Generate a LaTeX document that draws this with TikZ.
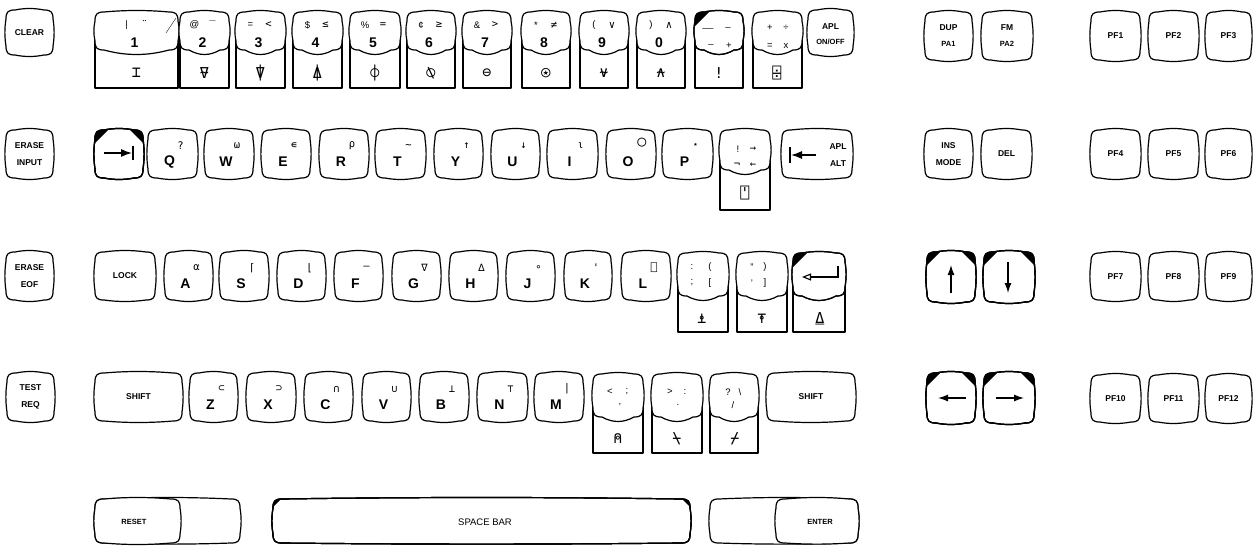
\documentclass[tikz,border=0pt]{standalone}
\usepackage{fontspec}
\setmainfont{Liberation Sans}
\newfontfamily\aplf{DejaVu Sans Mono}
\usetikzlibrary{arrows.meta}
\newcommand\kshape[6]{#1 ({#2+9},{#3}) .. controls ({#2+9+(#4-#2-18)/3},{#3-2}) and ({#4-9-(#4-#2-18)/3},{#3-2}) .. ({#4-9},{#3}) .. controls ({#4-2},{#3}) and ({#4},{#3+2}) .. ({#4},{#3+9}) .. controls ({#4+1.5},{#3+9+(#5-#3-18)/3}) and ({#4+1.5},{#5-9-(#5-#3-18)/3}) .. ({#4},{#5-9}) .. controls ({#4},{#5-2}) and ({#4-2},{#5}) .. ({#4-9},{#5}) .. controls ({#4-9-(#4-#2-18)/3},{#5+#6}) and ({#2+9+(#4-#2-18)/3},{#5+#6}) .. ({#2+9},{#5}) .. controls ({#2+2},{#5}) and ({#2},{#5-2}) .. ({#2},{#5-9}) .. controls ({#2-1.5},{#5-9-(#5-#3-18)/3}) and ({#2-1.5},{#3+9+(#5-#3-18)/3}) .. ({#2},{#3+9}) .. controls ({#2},{#3+2}) and ({#2+2},{#3}) .. cycle;}
\newcommand\kcap[5]{\kshape{\draw[kl,fill=white]}{#1}{#2}{#3}{#4}{#5}}
\newcommand\kbl[6]{\begin{scope}\kshape{\clip}{#1}{#2}{#3}{#4}{#5}\fill ({#1-3},{#2-3}) -- ({#1+#6},{#2-3}) -- ({#1-3},{#2+#6}) -- cycle;\end{scope}\kshape{\draw[kl]}{#1}{#2}{#3}{#4}{#5}}
\newcommand\kbr[6]{\begin{scope}\kshape{\clip}{#1}{#2}{#3}{#4}{#5}\fill ({#3+3},{#2-3}) -- ({#3-#6},{#2-3}) -- ({#3+3},{#2+#6}) -- cycle;\end{scope}\kshape{\draw[kl]}{#1}{#2}{#3}{#4}{#5}}
\newcommand\tkey[5]{\draw[kl] (#1,{#4-10}) -- (#1,#5) -- (#3,#5) -- (#3,{#4-10}); \kcap{#1}{#2}{#3}{#4}{6}}
\newcommand\lkey[6]{\kcap{#2}{#4}{#3}{#4+48}{2}
 \node[big] (#1) at ({(#2+#3)/2-3},{#4+32}) {#5};
 \node[sym] (#1s) at ({(#2+#3)/2+8},{#4+16}) {#6};}
\newcommand\dkey[7]{\tkey{#2}{12}{#3}{50}{88}
 \node[sm] (#1a) at ({(#2+#3)/2-10},25) {#4};
 \node[sym] (#1b) at ({(#2+#3)/2+8},25) {#5};
 \node[big] (#1c) at ({(#2+#3)/2-2},43) {#6};
 \node[low] (#1d) at ({(#2+#3)/2},73) {#7};}
\newcommand\nkey[6]{\kcap{#2}{#3}{#4}{#5}{2}\node[lab] (#1) at ({(#2+#4)/2},{(#3+#5)/2}) {#6};}
\tikzset{
 kl/.style={line width=1.2pt, line join=round},
 big/.style={font=\fontsize{14}{14}\selectfont\bfseries, inner sep=0pt},
 sym/.style={font=\aplf\fontsize{10.5}{10.5}\selectfont, inner sep=0pt},
 low/.style={font=\aplf\fontsize{15}{15}\selectfont, inner sep=0pt},
 sm/.style={font=\fontsize{9.5}{9.5}\selectfont, inner sep=0pt},
 lab/.style={font=\fontsize{8.5}{17}\selectfont\bfseries, align=center, inner sep=0pt},
 slab/.style={font=\fontsize{7.5}{9}\selectfont\bfseries, inner sep=0pt},
 rg/.style={font=\fontsize{9.5}{9.5}\selectfont, inner sep=0pt},
 arr/.style={line width=1.3pt}
}
\begin{document}
\begin{tikzpicture}[x=1pt,y=-1pt]
\useasboundingbox (0,0) rectangle (1254,546);
% left column
\nkey{clear}{6}{10}{53}{55}{CLEAR}
\nkey{erin}{6}{130}{53}{178}{ERASE\\INPUT}
\nkey{ereof}{6}{252}{53}{300}{ERASE\\EOF}
\nkey{testreq}{7}{373}{54}{421}{TEST\\REQ}
% row 1
\dkey{d1}{95}{178}{|}{¨}{1}{⌶}
\draw[line width=0.4pt] (166,33) -- (176,18);
\dkey{d2}{180}{229}{@}{‾}{2}{⍫}
\dkey{d3}{236}{285}{=}{<}{3}{⍒}
\dkey{d4}{293}{342}{\$}{≤}{4}{⍋}
\dkey{d5}{350}{400}{\%}{=}{5}{⌽}
\dkey{d6}{407}{455}{¢}{≥}{6}{⍉}
\dkey{d7}{463}{511}{\&}{>}{7}{⊖}
\dkey{d8}{522}{570}{*}{≠}{8}{⍟}
\dkey{d9}{580}{628}{(}{∨}{9}{⍱}
\dkey{d0}{637}{685}{)}{∧}{0}{⍲}
\tkey{695}{12}{743}{50}{88}
\kbl{695}{12}{743}{50}{6}{17}
\node[rg] (mia) at (708,28) {\_\_};
\node[rg] (mib) at (728,29) {–};
\node[rg] (mic) at (711,46) {–};
\node[rg] (mid) at (729,46) {+};
\node[low] (mie) at (719,73) {!};
\tkey{753}{12}{802}{50}{88}
\node[rg] (pla) at (770,28) {+};
\node[rg] (plb) at (786,28) {÷};
\node[rg] (plc) at (770,46) {=};
\node[rg] (pld) at (786,46) {x};
\node[low] (ple) at (777,73) {⌹};
\kcap{808}{10}{853}{55}{2}
\node[lab] (aplon) at (830.5,27) {APL};
\node[slab] (aplonb) at (830.5,42) {ON/OFF};
% row 2
\kcap{95}{130}{143}{178}{2}
\kbl{95}{130}{143}{178}{2}{16}
\kbr{95}{130}{143}{178}{2}{16}
\draw[arr,-{Latex[length=11pt,width=8pt]}] (104,153) coordinate (tab0) -- (132,153) coordinate (tab1);
\draw[arr] (133,146) -- (133,160);
\lkey{kq}{148}{197}{130}{Q}{?}
\lkey{kw}{205}{253}{130}{W}{⍵}
\lkey{ke}{262}{310}{130}{E}{∊}
\lkey{kr}{320}{368}{130}{R}{⍴}
\lkey{kt}{376}{425}{130}{T}{∼}
\lkey{ky}{435}{482}{130}{Y}{↑}
\lkey{ku}{492}{539}{130}{U}{↓}
\lkey{ki}{548}{597}{130}{I}{⍳}
\lkey{ko}{607}{655}{130}{O}{}
\node[font=\aplf\fontsize{15}{15}\selectfont, inner sep=0pt] (kos) at (642,143) {○};
\lkey{kp}{663}{712}{130}{P}{⋆}
\tkey{720}{130}{770}{170}{210}
\node[rg] (exa) at (738,149) {!};
\node[sym] (exb) at (753,149) {→};
\node[sym] (exc) at (737,165) {¬};
\node[sym] (exd) at (753,165) {←};
\node[low] (exe) at (745,193) {⍞};
\kcap{782}{130}{852}{178}{2}
\draw[arr,-{Latex[length=11pt,width=8pt]}] (816,155) coordinate (alt0) -- (791,155) coordinate (alt1);
\draw[arr] (790,147) -- (790,163);
\node[lab] (aplalt) at (838,155) {APL\\ALT};
% row 3
\nkey{lock}{95}{252}{155}{300}{LOCK}
\lkey{ka}{165}{212}{252}{A}{⍺}
\lkey{ks}{220}{268}{252}{S}{⌈}
\lkey{kd}{278}{325}{252}{D}{⌊}
\lkey{kf}{335}{382}{252}{F}{–}
\lkey{kg}{393}{440}{252}{G}{∇}
\lkey{kh}{450}{497}{252}{H}{∆}
\lkey{kj}{507}{554}{252}{J}{∘}
\lkey{kk}{565}{611}{252}{K}{'}
\lkey{kl}{622}{670}{252}{L}{⎕}
\tkey{678}{253}{728}{296}{332}
\node[rg] (sca) at (692,267) {:};
\node[rg] (scb) at (710,267) {(};
\node[rg] (scc) at (692,283) {;};
\node[rg] (scd) at (710,283) {[};
\node[low] (sce) at (702,319) {⍎};
\tkey{737}{253}{787}{296}{332}
\node[rg] (qua) at (752,267) {"};
\node[rg] (qub) at (765,267) {)};
\node[rg] (quc) at (752,283) {'};
\node[rg] (qud) at (765,283) {]};
\node[low] (que) at (762,319) {⍕};
\tkey{793}{253}{845}{296}{332}
\kbl{793}{253}{845}{296}{6}{17}
\draw[line width=1.1pt,-{Triangle[open,length=9pt,width=7pt]}] (838,266) coordinate (ent0) -- (838,277) -- (802,277) coordinate (ent1);
\node[low] (ente) at (820,319) {⍙};
% row 4
\nkey{shl}{95}{373}{182}{421}{SHIFT}
\lkey{kz}{190}{237}{373}{Z}{⊂}
\lkey{kx}{247}{295}{373}{X}{⊃}
\lkey{kc}{305}{352}{373}{C}{∩}
\lkey{kv}{363}{410}{373}{V}{∪}
\lkey{kb}{420}{468}{373}{B}{⊥}
\lkey{kn}{478}{527}{373}{N}{⊤}
\lkey{km}{535}{583}{373}{M}{|}
\tkey{593}{374}{643}{417}{453}
\node[rg] (lta) at (610,392) {<};
\node[rg] (ltb) at (627,392) {;};
\node[rg] (ltc) at (620,405) {,};
\node[low] (lte) at (618,439) {⍝};
\tkey{652}{374}{702}{417}{453}
\node[rg] (gta) at (670,392) {>};
\node[rg] (gtb) at (685,392) {:};
\node[rg] (gtc) at (678,405) {.};
\node[low] (gte) at (677,439) {⍀};
\tkey{710}{374}{758}{417}{453}
\node[rg] (qma) at (728,392) {?};
\node[rg] (qmb) at (740,392) {\textbackslash};
\node[rg] (qmc) at (733,405) {/};
\node[low] (qme) at (735,439) {⌿};
\nkey{shr}{767}{373}{855}{421}{SHIFT}
% row 5
\kcap{95}{499}{240}{543}{1.5}
\nkey{reset}{95}{499}{180}{543}{}
\node[slab] (resett) at (134,522) {RESET};
\kcap{273}{499}{690}{543}{1.5}
\kbl{273}{499}{690}{543}{1.5}{11}
\kbr{273}{499}{690}{543}{1.5}{11}
\node[rg] (space) at (485,522) {SPACE BAR};
\kcap{710}{499}{858}{543}{1.5}
\kcap{776}{499}{858}{543}{1.5}
\node[slab] (enter) at (820,522) {ENTER};
% right cluster
\nkey{dup}{925}{12}{972}{60}{}
\node[lab] (dupa) at (948.5,28) {DUP};
\node[slab] (dupb) at (948.5,44) {PA1};
\nkey{fm}{982}{12}{1032}{60}{}
\node[lab] (fma) at (1007,28) {FM};
\node[slab] (fmb) at (1007,44) {PA2};
\nkey{ins}{925}{130}{972}{178}{INS\\MODE}
\nkey{del}{982}{130}{1031}{178}{DEL}
\kcap{927}{252}{975}{302}{2}
\kbl{927}{252}{975}{302}{2}{16}
\kbr{927}{252}{975}{302}{2}{16}
\draw[arr,-{Latex[length=10pt,width=7pt]}] (951,293) coordinate (up0) -- (951,265) coordinate (up1);
\kcap{984}{252}{1034}{302}{2}
\kbl{984}{252}{1034}{302}{2}{16}
\kbr{984}{252}{1034}{302}{2}{16}
\draw[arr,-{Latex[length=10pt,width=7pt]}] (1008,262) coordinate (dn0) -- (1008,293) coordinate (dn1);
\kcap{927}{373}{975}{423}{2}
\kbl{927}{373}{975}{423}{2}{16}
\kbr{927}{373}{975}{423}{2}{16}
\draw[arr,-{Latex[length=10pt,width=7pt]}] (966,398) coordinate (lf0) -- (938,398) coordinate (lf1);
\kcap{984}{373}{1034}{423}{2}
\kbl{984}{373}{1034}{423}{2}{16}
\kbr{984}{373}{1034}{423}{2}{16}
\draw[arr,-{Latex[length=10pt,width=7pt]}] (996,398) coordinate (rt0) -- (1024,398) coordinate (rt1);
\nkey{pf1}{1091}{12}{1140}{60}{PF1}
\nkey{pf2}{1149}{12}{1198}{60}{PF2}
\nkey{pf3}{1206}{12}{1251}{60}{PF3}
\nkey{pf4}{1091}{130}{1140}{178}{PF4}
\nkey{pf5}{1149}{130}{1198}{178}{PF5}
\nkey{pf6}{1206}{130}{1251}{178}{PF6}
\nkey{pf7}{1091}{253}{1140}{300}{PF7}
\nkey{pf8}{1149}{253}{1198}{300}{PF8}
\nkey{pf9}{1206}{253}{1251}{300}{PF9}
\nkey{pf10}{1091}{375}{1140}{422}{PF10}
\nkey{pf11}{1149}{375}{1198}{422}{PF11}
\nkey{pf12}{1206}{375}{1251}{422}{PF12}
\end{tikzpicture}
\end{document}
